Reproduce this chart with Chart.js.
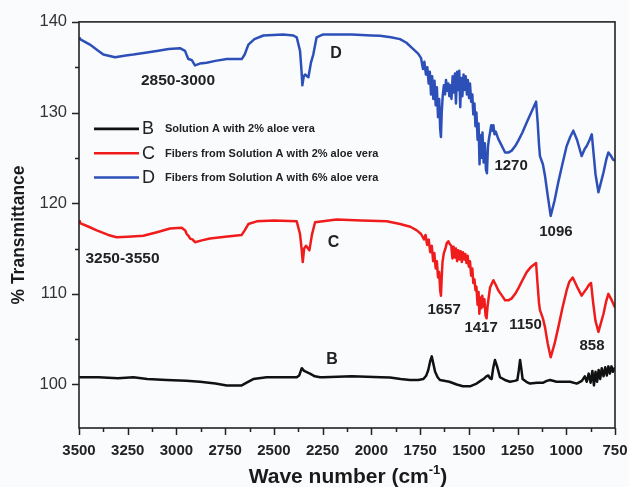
<!DOCTYPE html>
<html><head><meta charset="utf-8">
<script src="https://cdn.jsdelivr.net/npm/chart.js@4.4.0/dist/chart.umd.min.js"></script>
<style>
html,body{margin:0;padding:0;background:#fafbfd;}
#wrap{position:relative;width:629px;height:487px;}
</style></head><body>
<div id="wrap"><canvas id="c" width="629" height="487"></canvas></div>
<script>
// ---- tick values ----
const xTicks = [3500, 3250, 3000, 2750, 2500, 2250, 2000, 1750, 1500, 1250, 1000, 750];
const xMinor = [3375, 3125, 2875, 2625, 2375, 2125, 1875, 1625, 1375, 1125, 875];
const yTicks = [100, 110, 120, 130, 140];
const yMinor = [105, 115, 125, 135];

// ---- series names ----
const seriesLetters = ['B', 'C', 'D'];
const seriesNames = ['Solution A with 2% aloe vera', 'Fibers from Solution A with 2% aloe vera', 'Fibers from Solution A with 6% aloe vera'];

// ---- B: Solution A with 2% aloe vera ----
const waveB = [3500,3400,3300,3221,3150,3050,2950,2879,2800,2742,2690,2665,2640,2606,2537,2450,2383,2370,2357,2345,2315,2290,2263,2247,2100,1950,1904,1850,1802,1760,1733,1718,1708,1698,1690,1682,1673,1660,1648,1600,1562,1530,1494,1460,1440,1425,1410,1400,1392,1383,1375,1366,1355,1340,1315,1289,1265,1251,1244,1237,1231,1224,1205,1186,1150,1118,1100,1083,1050,1015,980,946,920,905,895,885,875,866,858,850,842,834,826,818,809,800,792,784,776,768,760,750];
const transB = [100.8,100.8,100.7,100.8,100.6,100.5,100.4,100.3,100.1,99.9,99.9,99.9,100.2,100.6,100.8,100.8,100.8,101.0,101.8,101.5,101.2,100.9,100.8,100.8,100.9,100.8,100.76,100.6,100.5,100.5,100.6,101.0,101.6,102.6,103.1,102.3,101.4,100.8,100.5,100.3,100.0,99.8,99.8,100.1,100.4,100.6,100.9,101.0,100.7,100.6,101.8,102.7,102.0,100.8,100.5,100.3,100.4,100.5,101.5,102.7,101.8,100.6,100.3,100.1,100.2,100.2,100.4,100.5,100.3,100.3,100.3,100.1,100.4,100.9,100.3,101.2,100.2,101.5,99.9,101.4,100.3,101.6,100.6,101.8,100.9,101.9,101.0,102.0,101.2,102.0,101.4,101.9];

// ---- C: Fibers from Solution A with 2% aloe vera ----
const waveC = [3500,3495,3450,3409,3350,3307,3250,3170,3100,3033,2973,2955,2947,2938,2930,2918,2905,2870,2828,2750,2665,2650,2631,2588,2500,2383,2366,2358,2352,2345,2335,2325,2318,2305,2289,2178,2050,1921,1853,1800,
  1767,1745,1730,1722,1714,1706,1698,1690,1683,1677,1670,1664,1658,1652,1647,1643,1639,1635,1628,1620,1613,1605,1598,1590,1584,1578,1572,1566,1560,1554,1548,1542,1536,1530,1524,1518,1512,1506,1500,1494,1488,1482,1477,1471,1466,1461,1455,1450,1446,1441,1436,1431,1425,1420,1414,1409,1404,1398,1391,1374,
  1362,1349,1330,1314,1295,1280,1262,1246,1225,1203,1180,1155,1147,1140,1135,1120,1109,1095,1080,1060,1041,1020,998,985,967,945,921,905,895,883,873,862,850,835,822,809,795,784,767,750];
const transC = [118.0,117.8,117.4,117.0,116.5,116.25,116.3,116.4,116.8,117.2,117.3,117.0,116.6,116.4,116.1,116.0,115.7,115.9,116.1,116.3,116.5,117.0,117.7,118.0,118.1,118.0,116.6,115.0,113.5,115.0,115.3,115.0,114.8,116.5,117.9,118.2,118.1,118.0,117.7,117.4,
  117.0,116.6,116.0,116.5,115.4,116.0,114.6,115.3,113.6,114.5,112.8,113.6,111.8,112.4,110.4,109.8,111.8,113.5,114.5,115.0,115.6,115.8,115.5,115.3,113.9,115.2,114.0,115.0,113.6,114.8,113.8,114.7,113.5,114.6,113.8,114.4,113.4,114.2,113.0,113.6,112.0,112.8,111.2,111.6,110.4,110.8,108.8,110.2,107.8,109.6,108.4,109.8,108.6,109.4,107.6,107.3,108.6,109.6,110.7,111.5,
  111.0,110.4,109.8,109.3,109.3,109.5,110.0,110.6,111.5,112.4,113.0,113.4,111.0,109.0,108.2,107.3,106.3,104.5,103.0,104.5,106.3,108.4,110.4,111.3,111.8,110.8,109.8,110.3,110.6,111.0,111.2,109.0,107.0,105.8,106.8,107.8,109.2,110.0,109.3,108.5];

// ---- D: Fibers from Solution A with 6% aloe vera ----
const waveD = [3500,3495,3444,3400,3375,3315,3260,3221,3160,3101,3040,2982,2956,2945,2939,2922,2905,2880,2845,2800,2742,2665,2650,2631,2600,2554,2452,2400,2383,2366,2358,2354,2347,2340,2330,2323,2310,2298,2281,2250,2100,2000,1956,1900,1853,1820,1785,
  1760,1745,1735,1728,1720,1713,1706,1700,1694,1688,1682,1676,1670,1664,1658,1652,1647,1643,1639,1634,1628,1622,1617,1611,1605,1600,1594,1589,1583,1577,1571,1566,1560,1555,1549,1544,1539,1533,1527,1521,1516,1510,1505,1499,1494,1488,1482,1477,1471,1466,1461,1455,1450,1445,1440,1435,1430,1424,1418,1412,1407,1402,1396,1391,1385,1379,1374,1368,1362,1349,
  1330,1314,1295,1280,1262,1246,1225,1203,1180,1155,1147,1140,1135,1120,1109,1095,1080,1060,1041,1020,998,980,964,945,921,905,895,880,869,860,850,835,822,809,795,784,770,760,750];
const transD = [138.2,138.1,137.5,136.8,136.4,136.1,136.3,136.4,136.6,136.8,137.0,137.1,136.8,136.2,135.9,135.8,135.2,135.4,135.5,135.7,135.9,135.9,136.4,137.5,138.1,138.5,138.6,138.5,138.3,136.8,134.5,133.0,134.0,134.2,134.0,133.9,135.5,136.4,138.3,138.6,138.6,138.5,138.46,138.3,138.1,137.7,137.0,
  136.5,136.0,134.8,135.6,134.2,135.0,133.2,134.5,132.0,134.0,131.5,133.5,130.8,132.8,129.5,131.5,128.2,127.3,130.0,131.8,133.0,132.0,133.6,132.4,133.2,131.8,133.0,131.5,134.0,132.2,134.3,131.0,134.5,132.5,134.6,130.6,133.8,131.8,134.2,132.5,134.0,132.0,133.6,131.6,133.2,131.2,132.0,129.8,131.0,128.5,130.0,127.0,128.8,124.3,127.5,125.0,127.8,124.5,126.6,123.7,123.3,126.2,127.2,127.8,128.6,128.0,128.6,127.6,127.9,127.1,
  126.3,125.6,125.6,125.8,126.3,126.9,127.8,128.9,130.0,131.2,129.0,126.5,125.2,124.3,123.0,120.8,118.6,120.3,122.3,124.3,126.3,127.3,128.0,127.0,125.2,126.0,126.3,127.0,127.6,125.5,123.2,121.2,122.3,123.4,124.8,125.6,125.2,124.8,124.7];

// ---- peak annotations (text, wavenumber, transmittance) ----
const noteText = ['2850-3000', 'D', '1270', '1096', '3250-3550', 'C', '1657', '1417', '1150', '858', 'B'];
const noteWave = [2992, 2181, 1283, 1053, 3277, 2194, 1627, 1437, 1209, 868, 2202];
const noteTrans = [133.5, 136.5, 124.1, 116.8, 113.9, 115.7, 108.2, 106.3, 106.6, 104.3, 102.8];

const colors = ['#111111', '#f01c1c', '#2d50b8'];
const FONT = '"Liberation Sans", Arial, sans-serif';

function pts(xs, ys) { return xs.map((v, i) => ({ x: v, y: ys[i] })); }

const decor = {
  id: 'decor',
  afterDraw(chart) {
    const { ctx, chartArea: a, scales: { x, y } } = chart;
    ctx.save();
    // frame
    ctx.strokeStyle = '#222'; ctx.lineWidth = 1.6;
    ctx.strokeRect(a.left, a.top, a.right - a.left, a.bottom - a.top);
    // ticks
    ctx.beginPath();
    xTicks.forEach(v => { const p = Math.round(x.getPixelForValue(v)) + 0.5; ctx.moveTo(p, a.bottom); ctx.lineTo(p, a.bottom + 7); });
    xMinor.forEach(v => { const p = Math.round(x.getPixelForValue(v)) + 0.5; ctx.moveTo(p, a.bottom); ctx.lineTo(p, a.bottom + 4); });
    yTicks.forEach(v => { const p = Math.round(y.getPixelForValue(v)) + 0.5; ctx.moveTo(a.left, p); ctx.lineTo(a.left - 7, p); });
    yMinor.forEach(v => { const p = Math.round(y.getPixelForValue(v)) + 0.5; ctx.moveTo(a.left, p); ctx.lineTo(a.left - 4, p); });
    ctx.lineWidth = 1.5; ctx.stroke();

    // annotations
    ctx.fillStyle = '#222'; ctx.textAlign = 'center'; ctx.textBaseline = 'middle';
    noteText.forEach((t, i) => {
      const size = t.length === 1 ? 16 : (t.indexOf('-') > 0 ? 15.5 : 15);
      ctx.font = 'bold ' + size + 'px ' + FONT;
      ctx.fillText(t, x.getPixelForValue(noteWave[i]), y.getPixelForValue(noteTrans[i]));
    });

    // legend
    seriesLetters.forEach((L, i) => {
      const ry = a.top + 107 + i * 24.3;
      ctx.strokeStyle = colors[i]; ctx.lineWidth = 2.6;
      ctx.beginPath(); ctx.moveTo(a.left + 15, ry); ctx.lineTo(a.left + 60, ry); ctx.stroke();
      ctx.fillStyle = '#222'; ctx.textAlign = 'left'; ctx.textBaseline = 'middle';
      ctx.font = '18px ' + FONT;
      ctx.fillText(L, a.left + 63, ry + 0.5);
      ctx.font = 'bold 11px ' + FONT;
      ctx.fillText(seriesNames[i], a.left + 86, ry + 0.5);
    });

    // y title
    ctx.save();
    ctx.translate(19, 235); ctx.rotate(-Math.PI / 2);
    ctx.font = 'bold 17.5px ' + FONT; ctx.textAlign = 'center'; ctx.textBaseline = 'middle';
    ctx.fillStyle = '#1a1a1a';
    ctx.fillText('% Transmittance', 0, 0);
    ctx.restore();

    // x title with superscript
    const main = 'Wave number (cm', sup = '-1', close = ')';
    ctx.font = 'bold 21px ' + FONT; const w1 = ctx.measureText(main).width, w3 = ctx.measureText(close).width;
    ctx.font = 'bold 13px ' + FONT; const w2 = ctx.measureText(sup).width;
    let sx = (a.left + a.right) / 2 - (w1 + w2 + w3) / 2 + 1;
    const by = 483;
    ctx.fillStyle = '#1a1a1a'; ctx.textAlign = 'left'; ctx.textBaseline = 'alphabetic';
    ctx.font = 'bold 21px ' + FONT; ctx.fillText(main, sx, by);
    ctx.font = 'bold 13px ' + FONT; ctx.fillText(sup, sx + w1, by - 9);
    ctx.font = 'bold 21px ' + FONT; ctx.fillText(close, sx + w1 + w2, by);
    ctx.restore();
  }
};

new Chart(document.getElementById('c'), {
  type: 'line',
  data: {
    datasets: [
      { label: seriesLetters[0] + ' ' + seriesNames[0], data: pts(waveB, transB), borderColor: colors[0] },
      { label: seriesLetters[1] + ' ' + seriesNames[1], data: pts(waveC, transC), borderColor: colors[1] },
      { label: seriesLetters[2] + ' ' + seriesNames[2], data: pts(waveD, transD), borderColor: colors[2] }
    ]
  },
  options: {
    responsive: false, animation: false, devicePixelRatio: 1,
    layout: { padding: { top: 21, right: 14, left: 0, bottom: 0 } },
    elements: { point: { radius: 0 }, line: { borderWidth: 2.5, tension: 0, borderJoinStyle: 'round' } },
    plugins: { legend: { display: false }, tooltip: { enabled: false } },
    scales: {
      x: {
        type: 'linear', reverse: true, min: 750, max: 3500,
        afterBuildTicks: s => { s.ticks = xTicks.slice().sort((p, q) => p - q).map(v => ({ value: v })); },
        afterFit: s => { s.height = 59; },
        grid: { drawOnChartArea: false, drawTicks: false },
        border: { display: false },
        ticks: { autoSkip: false, maxRotation: 0, padding: 14, color: '#222', font: { family: FONT, size: 15, weight: 'bold' }, callback: v => String(v) }
      },
      y: {
        min: 95.2, max: 140,
        afterBuildTicks: s => { s.ticks = yTicks.map(v => ({ value: v })); },
        afterFit: s => { s.width = 79; },
        grid: { drawOnChartArea: false, drawTicks: false },
        border: { display: false },
        ticks: { padding: 12, color: '#333', font: { family: FONT, size: 16.5 }, callback: v => String(v) }
      }
    }
  },
  plugins: [decor]
});
</script>
</body></html>
